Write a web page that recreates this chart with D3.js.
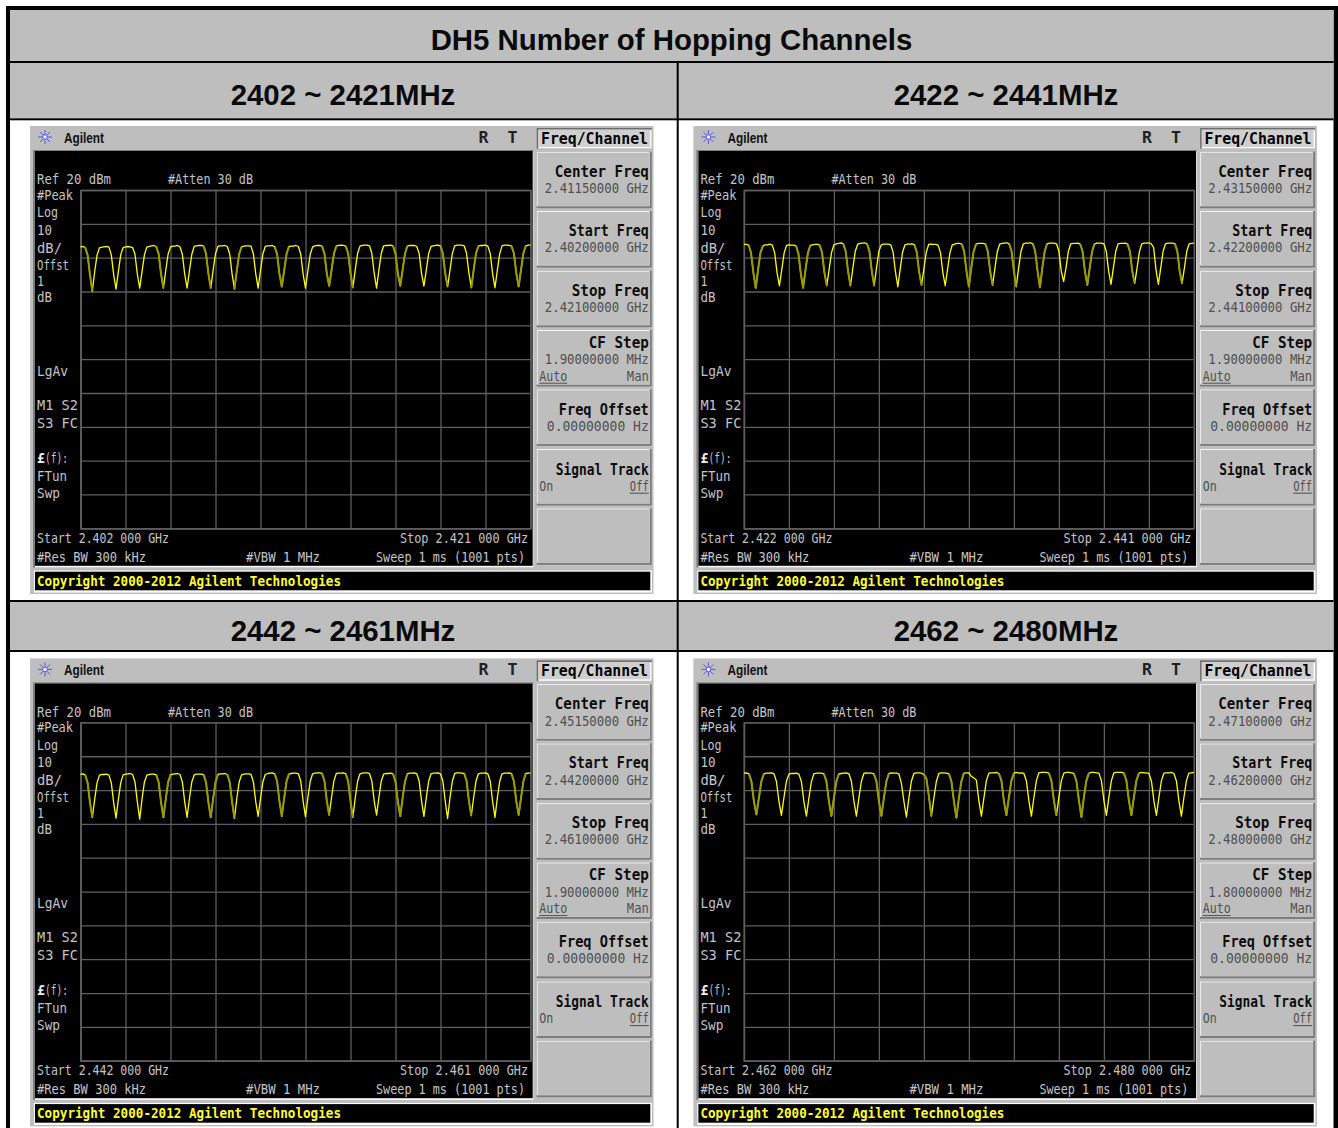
<!DOCTYPE html>
<html><head><meta charset="utf-8">
<script src="https://cdn.jsdelivr.net/npm/d3@7"></script>
<style>html,body{margin:0;padding:0;background:#fff;overflow:hidden}svg{display:block}</style>
</head><body><svg id="c" width="1338" height="1128"></svg>
<script>
const mainTitle = "DH5 Number of Hopping Channels";
const headers = ["2402 ~ 2421MHz","2422 ~ 2441MHz","2442 ~ 2461MHz","2462 ~ 2480MHz"];
const startMHz = [2402,2422,2442,2462];
const stopMHz = [2421,2441,2461,2480];
const centerText = ["2.41150000 GHz","2.43150000 GHz","2.45150000 GHz","2.47100000 GHz"];
const startText = ["2.40200000 GHz","2.42200000 GHz","2.44200000 GHz","2.46200000 GHz"];
const stopText = ["2.42100000 GHz","2.44100000 GHz","2.46100000 GHz","2.48000000 GHz"];
const stepText = ["1.90000000 MHz","1.90000000 MHz","1.90000000 MHz","1.80000000 MHz"];
const startLabel = ["Start 2.402 000 GHz","Start 2.422 000 GHz","Start 2.442 000 GHz","Start 2.462 000 GHz"];
const stopLabel = ["Stop 2.421 000 GHz","Stop 2.441 000 GHz","Stop 2.461 000 GHz","Stop 2.480 000 GHz"];
const gridX = [0,1,2,3,4,5,6,7,8,9,10];
const gridDb = [20,10,0,-10,-20,-30,-40,-50,-60,-70,-80];

// Trace levels in dBm, one reading per 0.1 MHz, one row per hop channel
const trace1 = [
3.2,3.3,3.0,0.8,-5.1,-9.9,-4.1,0.8,2.9,3.1,
3.2,3.3,3.1,0.9,-5.0,-9.3,-4.0,0.9,3.0,3.2,
3.3,3.2,3.0,1.0,-4.9,-9.0,-4.0,0.9,3.1,3.3,
3.5,3.6,3.3,1.1,-4.8,-9.0,-3.8,1.1,3.2,3.4,
3.4,3.6,3.2,1.0,-4.9,-9.0,-3.9,1.0,3.3,3.5,
3.6,3.6,3.4,1.2,-4.7,-9.0,-3.7,1.2,3.3,3.5,
3.5,3.6,3.3,1.1,-4.8,-9.3,-3.8,1.1,3.2,3.4,
3.5,3.5,3.4,1.1,-4.8,-9.0,-3.8,1.1,3.3,3.5,
3.5,3.6,3.2,1.1,-4.8,-8.6,-3.8,1.1,3.3,3.4,
3.4,3.6,3.3,1.0,-4.9,-9.0,-3.9,1.0,3.2,3.5,
3.6,3.6,3.4,1.2,-4.7,-8.4,-3.7,1.2,3.4,3.6,
3.7,3.6,3.4,1.3,-4.6,-8.9,-3.6,1.3,3.4,3.6,
3.7,3.7,3.5,1.3,-4.6,-9.0,-3.6,1.3,3.5,3.6,
3.6,3.7,3.4,1.2,-4.7,-8.4,-3.7,1.2,3.4,3.6,
3.6,3.6,3.3,1.2,-4.7,-8.4,-3.7,1.2,3.3,3.5,
3.6,3.7,3.4,1.2,-4.7,-8.6,-3.7,1.2,3.5,3.7,
3.7,3.7,3.5,1.3,-4.6,-8.9,-3.6,1.3,3.4,3.6,
3.6,3.7,3.4,1.2,-4.7,-8.9,-3.7,1.2,3.5,3.7,
3.7,3.6,3.4,1.3,-4.6,-8.6,-3.6,1.3,3.5,3.7,
3.7];
const trace2 = [
3.9,3.9,3.7,1.5,-4.4,-9.0,-3.4,1.5,3.4,3.8,
3.8,4.0,3.7,1.4,-4.5,-8.3,-3.5,1.4,3.6,3.8,
3.7,3.7,3.5,1.3,-4.6,-9.0,-3.6,1.3,3.6,3.8,
3.9,3.9,3.7,1.5,-4.4,-8.3,-3.4,1.5,3.8,4.1,
4.2,4.4,4.0,1.8,-4.1,-8.3,-3.1,1.8,3.9,4.2,
4.3,4.4,4.1,1.9,-4.0,-8.3,-3.0,1.9,3.8,4.0,
4.0,4.0,3.8,1.6,-4.3,-8.6,-3.3,1.6,3.8,4.0,
4.0,4.1,3.8,1.6,-4.3,-8.1,-3.3,1.6,3.9,4.0,
3.9,3.9,3.7,1.5,-4.4,-8.3,-3.4,1.5,3.8,4.0,
4.2,4.2,4.0,1.8,-4.1,-8.6,-3.1,1.8,4.0,4.2,
4.2,4.2,4.0,1.8,-4.1,-8.1,-3.1,1.8,4.0,4.2,
4.3,4.4,4.1,1.9,-4.0,-8.6,-3.0,1.9,4.1,4.3,
4.3,4.4,4.1,1.9,-4.0,-8.9,-3.0,1.9,4.1,4.3,
4.3,4.3,4.1,1.9,-4.0,-7.1,-3.0,1.9,4.1,4.2,
4.2,4.3,4.0,1.8,-4.1,-8.1,-3.1,1.8,4.0,4.3,
4.3,4.3,4.1,1.9,-4.0,-7.9,-3.0,1.9,4.1,4.2,
4.2,4.3,4.0,1.8,-4.1,-7.6,-3.1,1.8,4.1,4.3,
4.3,4.4,4.1,3.0,-3.6,-7.9,-3.0,1.9,4.1,4.3,
4.3,4.3,4.1,1.9,-4.0,-7.6,-3.0,1.9,4.1,4.2,
4.3];
const trace3 = [
4.6,4.8,4.4,2.2,-3.7,-8.1,-2.7,2.2,4.4,4.6,
4.6,4.7,4.4,2.2,-3.7,-8.3,-2.7,2.2,4.5,4.7,
4.8,4.9,4.6,2.4,-3.5,-8.6,-2.5,2.4,4.4,4.6,
4.7,4.7,4.5,2.3,-3.6,-8.1,-2.6,2.3,4.5,4.7,
4.8,4.9,4.6,2.4,-3.5,-8.1,-2.5,2.4,4.5,4.7,
4.7,4.7,4.5,2.3,-3.6,-8.1,-2.6,2.3,4.6,4.8,
4.8,4.9,4.6,2.4,-3.5,-8.4,-2.5,2.4,4.5,4.7,
4.8,4.8,4.6,2.4,-3.5,-7.8,-2.5,2.4,4.6,4.9,
5.0,5.1,4.8,2.6,-3.3,-7.8,-2.3,2.6,4.7,4.9,
5.0,5.0,4.8,2.6,-3.3,-7.9,-2.3,2.6,4.8,5.0,
5.1,5.1,4.9,2.7,-3.2,-7.4,-2.2,2.7,4.9,5.0,
5.0,5.1,4.8,2.6,-3.3,-8.1,-2.3,2.6,4.8,5.0,
5.1,5.1,4.9,2.7,-3.2,-7.4,-2.2,2.7,4.7,4.9,
4.9,5.0,4.7,2.5,-3.4,-7.8,-2.4,2.5,4.8,5.0,
5.0,5.1,4.8,2.6,-3.3,-7.8,-2.3,2.6,4.8,5.0,
5.0,5.1,4.8,2.6,-3.3,-8.4,-2.3,2.6,4.9,5.1,
5.1,5.0,4.9,2.7,-3.2,-7.6,-2.2,2.7,4.8,5.0,
5.0,5.1,4.8,2.6,-3.3,-8.1,-2.3,2.6,4.8,5.0,
5.0,5.1,4.8,2.6,-3.3,-7.4,-2.3,2.6,4.9,5.0,
5.0];
const trace4 = [
5.0,5.1,4.8,2.6,-3.3,-7.3,-2.3,2.6,4.8,5.0,
5.0,5.1,4.8,2.6,-3.3,-7.5,-2.3,2.6,4.7,4.9,
4.9,5.0,4.7,2.5,-3.4,-7.7,-2.4,2.5,4.8,5.0,
5.0,5.0,4.8,2.6,-3.3,-7.7,-2.3,2.6,4.8,4.9,
5.0,5.1,4.8,2.6,-3.3,-7.7,-2.3,2.6,4.9,5.1,
5.0,5.0,4.8,2.6,-3.3,-7.7,-2.3,2.6,4.9,5.1,
5.0,5.0,4.8,2.0,-3.3,-8.0,-2.3,2.6,4.9,5.1,
5.1,5.0,4.6,3.4,-1.9,-7.7,-2.3,2.6,4.9,5.1,
5.1,5.0,4.8,2.6,-3.3,-8.2,-2.3,2.6,5.0,5.1,
5.1,4.0,3.6,2.9,-3.3,-7.7,-2.3,2.8,5.0,5.1,
5.1,5.2,4.9,2.8,-3.2,-7.5,-2.2,2.8,5.0,5.2,
5.0,5.1,4.9,2.7,-3.2,-7.7,-2.2,2.8,5.1,5.2,
5.2,5.2,5.0,2.8,-3.1,-7.5,-2.1,2.8,5.0,5.2,
5.2,5.1,4.9,2.7,-3.0,-8.0,-2.1,2.8,5.0,5.2,
5.2,5.1,5.0,2.8,-3.1,-7.5,-2.1,2.8,5.1,5.2,
5.2,5.2,5.0,2.8,-3.1,-7.5,-2.1,2.8,5.0,5.2,
5.1,5.1,4.9,2.7,-3.2,-7.5,-2.2,2.7,5.0,5.1,
5.1,5.2,4.9,2.7,-3.2,-7.7,-2.2,2.7,5.0,5.1,
5.2];
const traces = [trace1,trace2,trace3,trace4];
// Which slope of each dip is dim on the analyser display: L, R, B (both) or none
const dim1 = ["L","","","L","","L","R","","B","","B","L","","B","","L","R","","B"];
const dim2 = ["B","","B","L","L","L","","L","","B","L","L","B","","B","","L","","L"];
const dim3 = ["L","","","B","","B","L","","B","","L","L","","B","","","L","","B"];
const dim4 = ["B","","","B","","B","","L","B","","B","","L","B","","B","",""];
const dims = [dim1,dim2,dim3,dim4];

const svg = d3.select("#c");
const GRAY="#bebebe", BLK="#000";
function rect(g,x,y,w,h,f){return g.append("rect").attr("x",x).attr("y",y).attr("width",w).attr("height",h).attr("fill",f);}
const MONO="'DejaVu Sans Mono',monospace";
function mono(g,x,y,s,w,o={}){
  const t=g.append("text").attr("x",x).attr("y",y).text(s)
    .attr("font-family",MONO).attr("font-size",o.size||14.8).attr("font-weight",o.bold?"bold":"normal")
    .attr("fill",o.fill||"#c4c4c4").attr("textLength",w).attr("lengthAdjust","spacingAndGlyphs");
  return t;
}
const head=(x,y,s,size)=>svg.append("text").attr("x",x).attr("y",y).attr("text-anchor","middle").text(s)
  .attr("font-family","'Liberation Sans',Arial,sans-serif").attr("font-weight","bold").attr("font-size",size).attr("fill","#0a0a0a");

// Table
rect(svg,6,6,1332,1122,BLK);
rect(svg,10,10,1323.5,1118,"#fff");
rect(svg,10,10,1323.5,51,GRAY);
rect(svg,10,61,1323.5,2,BLK);
rect(svg,10,63,1323.5,55.3,GRAY);
rect(svg,10,118.3,1323.5,2,BLK);
rect(svg,10,600,1323.5,2,BLK);
rect(svg,10,602,1323.5,48,GRAY);
rect(svg,10,650,1323.5,2,BLK);
rect(svg,676.7,62,2,538,BLK);
rect(svg,676.7,602,2,526,BLK);
head(671.5,50,mainTitle,29.4);
[[343,105],[1006,105],[343,641],[1006,641]].forEach((p,i)=>head(p[0],p[1],headers[i],29.4));

const offs=[[0,0],[663.4,0],[0,532.4],[663.4,532.4]];
const keyTops=[151.7,211,270.7,330,389.3,449,508.3];

headers.forEach((_,i)=>{
  const g=svg.append("g").attr("transform",`translate(${offs[i][0]},${offs[i][1]})`);
  rect(g,30,126,623.5,468,GRAY);
  rect(g,33,150,500.5,417.5,"#7d7d7d");
  rect(g,35,151,498.5,416.5,"#fff");
  rect(g,35,151,497.7,414.8,BLK);
  // logo
  const logo=g.append("g").attr("transform","translate(45,137)").attr("stroke","#5555ee").attr("stroke-width",1);
  d3.range(8).forEach(a=>{const r=a*Math.PI/4;logo.append("line").attr("x1",2*Math.cos(r)).attr("y1",2*Math.sin(r)).attr("x2",7*Math.cos(r)).attr("y2",7*Math.sin(r));});
  logo.append("circle").attr("r",2.2).attr("fill","#fff");
  g.append("text").attr("x",64).attr("y",142.6).text("Agilent").attr("font-family","'Liberation Sans',sans-serif").attr("font-weight","bold").attr("font-size",14.5).attr("fill","#111").attr("textLength",40).attr("lengthAdjust","spacingAndGlyphs");
  mono(g,478.5,143,"R",10,{fill:"#222",size:15,bold:true});
  mono(g,507.5,143,"T",10,{fill:"#222",size:15,bold:true});

  // Softkeys
  rect(g,536.7,128,115,20.5,"#6e6e6e");
  rect(g,538.4,129.7,113.3,18.8,"#fff");
  rect(g,538.4,129.7,111.8,17.3,"#cfcfcf");
  mono(g,541,143.5,"Freq/Channel",107,{fill:"#000",size:15.8,bold:true});
  keyTops.forEach(y=>{
    rect(g,536.7,y,115,56.5,"#7b7b7b");
    rect(g,536.7,y,113,54.5,"#f4f4f4");
    rect(g,537.7,y+1,112,53.5,GRAY);
  });
  const K={size:16.4,bold:true,fill:"#0c0c0c"}, V={fill:"#505050",size:14.6};
  const R=648.8;
  const key=(title,w,y,val,vw)=>{mono(g,R-w,y,title,w,K); if(val) mono(g,R-vw,y+16.3,val,vw,V);};
  key("Center Freq",94,177,centerText[i],104);
  key("Start Freq",80,236,startText[i],104);
  key("Stop Freq",77,295.5,stopText[i],104);
  key("CF Step",60,348,stepText[i],104);
  mono(g,539.3,380.7,"Auto",28,V); rect(g,539.3,382.7,28,1,"#505050");
  mono(g,R-22,380.7,"Man",22,V);
  key("Freq Offset",90,414.5,"0.00000000  Hz",102);
  mono(g,R-93,474.5,"Signal Track",93,K);
  mono(g,539.3,490.7,"On",14,V);
  mono(g,R-19,490.7,"Off",19,V); rect(g,R-19,492.7,19,1,"#505050");

  // Copyright bar
  rect(g,34,570.5,618,22,"#fff");
  rect(g,35,571.7,615.3,18.6,BLK);
  mono(g,37,586,"Copyright 2000-2012 Agilent Technologies",304,{fill:"#ffff33",bold:true,size:14.4});

  // Screen annotations
  const T=(x,y,s,w,o)=>mono(g,x,y,s,w,o);
  T(37,184.3,"Ref 20 dBm",74); T(168,184.3,"#Atten 30 dB",85);
  T(37,200,"#Peak",36); T(37,217.3,"Log",21); T(37,235,"10",15);
  T(37,252.7,"dB/",25); T(37,270,"Offst",32); T(37,286,"1",7); T(37,301.7,"dB",15);
  T(37,375.5,"LgAv",31); T(37,410,"M1  S2",41); T(37,428,"S3 FC",41);
  T(37,463,"£",8,{bold:true,fill:"#eee"}); T(45,463,"(f):",23);
  T(37,480.7,"FTun",30); T(37,498,"Swp",23);
  T(37,543,startLabel[i],132); T(400,543,stopLabel[i],128);
  T(37,561.7,"#Res BW 300 kHz",109); T(246,561.7,"#VBW 1 MHz",74);
  T(376,561.7,"Sweep 1 ms (1001 pts)",149);

  // Plot
  const x=d3.scaleLinear().domain([startMHz[i],stopMHz[i]]).range([80.5,530.5]);
  const y=d3.scaleLinear().domain([20,-80]).range([190,528.3]);
  const gx=d3.scaleLinear().domain([0,10]).range([80.5,530.5]);
  const gridCol="#5e5e5e";
  const ax=g.append("g").attr("transform","translate(0,528.3)")
    .call(d3.axisBottom(gx).tickValues(gridX).tickSize(-338.3).tickFormat(""));
  const ay=g.append("g").attr("transform","translate(80.5,0)")
    .call(d3.axisLeft(y).tickValues(gridDb).tickSize(-450).tickFormat(""));
  [ax,ay].forEach(a=>{a.select(".domain").attr("stroke",gridCol).attr("stroke-width",1.4);
    a.selectAll("line").attr("stroke",gridCol).attr("stroke-width",1.3);});

  const data=traces[i].map((v,j)=>({f:startMHz[i]+j/10,v}));
  const line=d3.line().x(d=>x(d.f)).y(d=>y(d.v));
  g.append("path").attr("d",line(data)).attr("fill","none").attr("stroke","#ffff00").attr("stroke-width",1.3).attr("stroke-linejoin","round");
  dims[i].forEach((s,k)=>{
    const c=5+10*k;
    if(s==="L"||s==="B") g.append("path").attr("d",line(data.slice(c-3,c+1))).attr("fill","none").attr("stroke","#999900").attr("stroke-width",2);
    if(s==="R"||s==="B") g.append("path").attr("d",line(data.slice(c,c+4))).attr("fill","none").attr("stroke","#999900").attr("stroke-width",2);
  });
});
</script></body></html>
